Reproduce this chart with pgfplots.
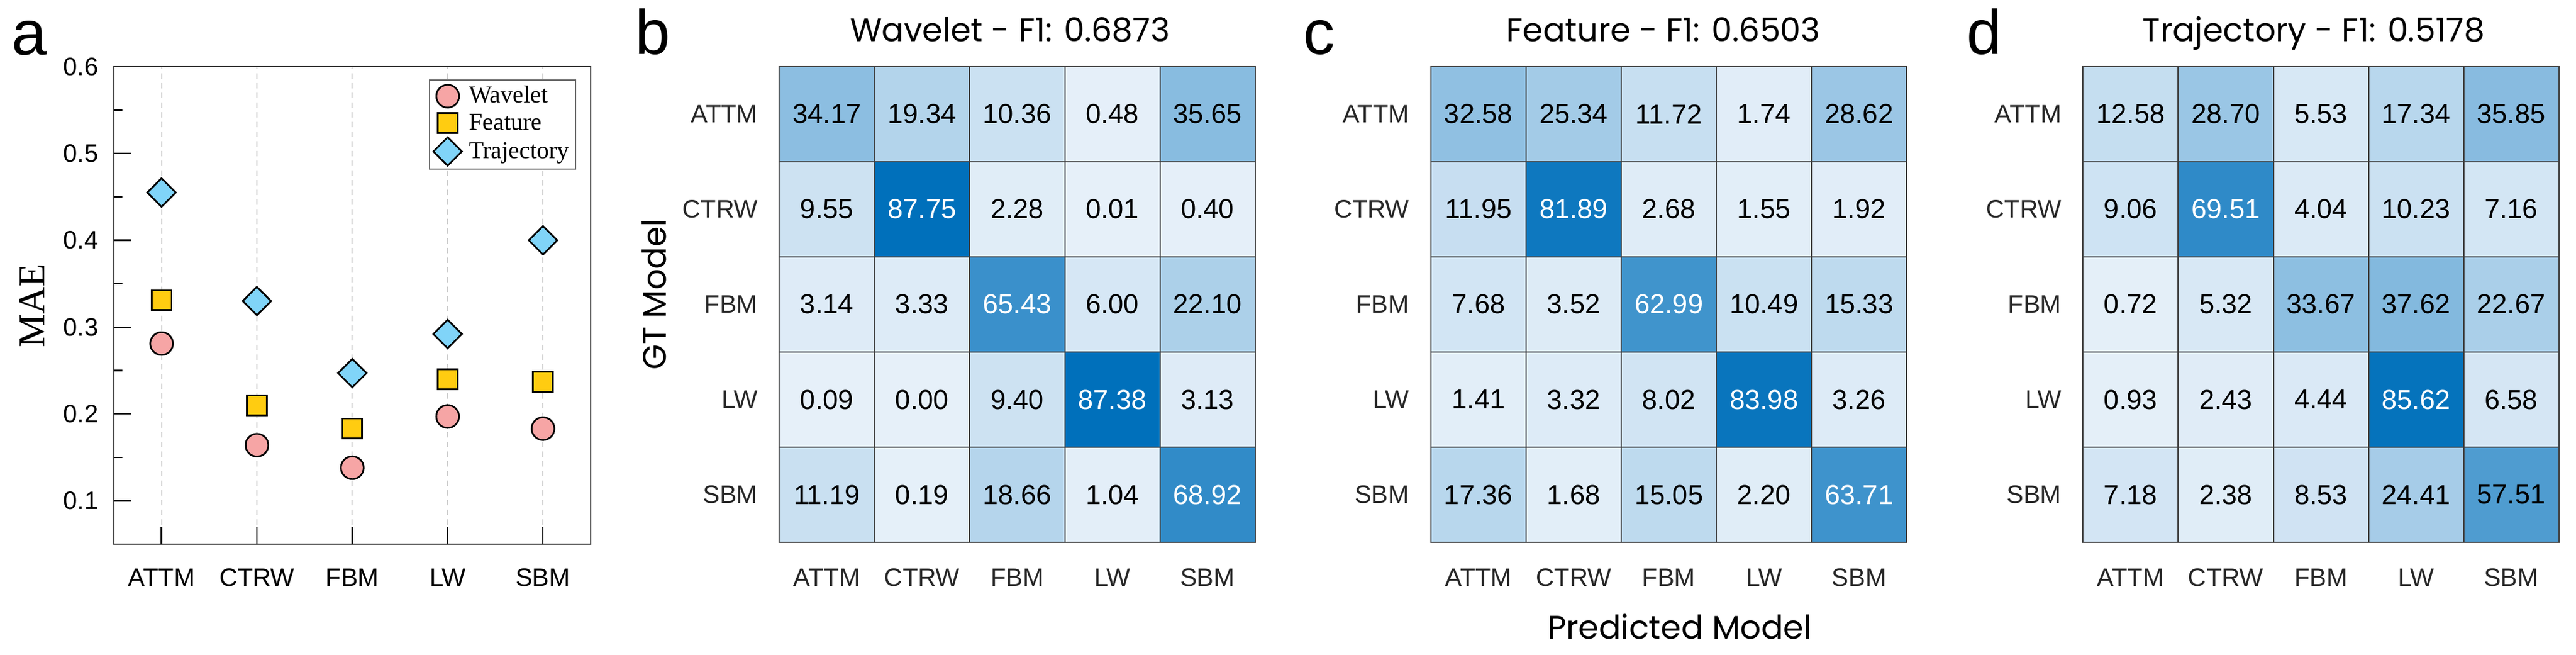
\documentclass[border=0pt]{standalone}
\usepackage{fontspec}
\setmainfont{Liberation Sans}
\newfontfamily\timesf{Liberation Serif}
\newfontfamily\geo{Poppins}
\usepackage{pgfplots}
\usepackage{pgfplotstable}
\pgfplotsset{compat=1.18}

\definecolor{wav}{RGB}{246,165,165}
\definecolor{fea}{RGB}{255,204,17}
\definecolor{tra}{RGB}{128,212,248}
\definecolor{lbl}{RGB}{38,38,38}

% MAE per model class
\pgfplotstableread{
x wav   fea   tra
0 0.281 0.331 0.455
1 0.164 0.210 0.330
2 0.138 0.183 0.247
3 0.197 0.240 0.292
4 0.183 0.237 0.400
}\mae

% confusion matrices: x = predicted, y = ground truth
\pgfplotstableread{
x y v
0 0 34.17
1 0 19.34
2 0 10.36
3 0 0.48
4 0 35.65
0 1 9.55
1 1 87.75
2 1 2.28
3 1 0.01
4 1 0.40
0 2 3.14
1 2 3.33
2 2 65.43
3 2 6.00
4 2 22.10
0 3 0.09
1 3 0.00
2 3 9.40
3 3 87.38
4 3 3.13
0 4 11.19
1 4 0.19
2 4 18.66
3 4 1.04
4 4 68.92
}\wavelet

\pgfplotstableread{
x y v
0 0 32.58
1 0 25.34
2 0 11.72
3 0 1.74
4 0 28.62
0 1 11.95
1 1 81.89
2 1 2.68
3 1 1.55
4 1 1.92
0 2 7.68
1 2 3.52
2 2 62.99
3 2 10.49
4 2 15.33
0 3 1.41
1 3 3.32
2 3 8.02
3 3 83.98
4 3 3.26
0 4 17.36
1 4 1.68
2 4 15.05
3 4 2.20
4 4 63.71
}\feature

\pgfplotstableread{
x y v
0 0 12.58
1 0 28.70
2 0 5.53
3 0 17.34
4 0 35.85
0 1 9.06
1 1 69.51
2 1 4.04
3 1 10.23
4 1 7.16
0 2 0.72
1 2 5.32
2 2 33.67
3 2 37.62
4 2 22.67
0 3 0.93
1 3 2.43
2 3 4.44
3 3 85.62
4 3 6.58
0 4 7.18
1 4 2.38
2 4 8.53
3 4 24.41
4 4 57.51
}\trajectory

\pgfplotsset{
  cm/.style={
    scale only axis, width=196.3pt, height=196.3pt,
    anchor=south west,
    xmin=-0.5, xmax=4.5, ymin=-0.5, ymax=4.5,
    enlargelimits=false, y dir=reverse,
    xtick={0,...,4}, ytick={0,...,4},
    xticklabels={ATTM,CTRW,FBM,LW,SBM},
    yticklabels={ATTM,CTRW,FBM,LW,SBM},
    major tick length=0pt, minor tick length=0pt,
    minor xtick={0.5,1.5,2.5,3.5}, minor ytick={0.5,1.5,2.5,3.5},
    xminorgrids, yminorgrids,
    minor grid style={draw=black!75, line width=0.5pt},
    axis line style={draw=black!75, line width=0.5pt},
    axis on top,
    colormap={cmblues}{rgb255(0)=(230,240,249) rgb255(1)=(0,112,187)},
    point meta min=0, point meta max=88,
    tick label style={font=\fontsize{10.4}{12}\selectfont, text=lbl, inner sep=0pt},
    xticklabel style={anchor=north, yshift=-10.7pt},
    yticklabel style={anchor=east, xshift=-8.75pt},
  },
  cmfill/.style={matrix plot*, mesh/cols=5, point meta=\thisrow{v}},
  cmtext/.style={
    draw=none, mark=none, point meta=explicit symbolic,
    nodes near coords={\pgfplotspointmeta},
    nodes near coords align=center,
    every node near coord/.append style={font=\fontsize{11.3}{13}\selectfont,
      text=#1, inner sep=0pt, anchor=center},
  },
  dark/.style={x filter/.expression={\thisrow{v}>60 ? nan : x}},
  light/.style={x filter/.expression={\thisrow{v}>60 ? x : nan}},
}

\begin{document}
\begin{tikzpicture}
\path[use as bounding box] (0,0) rectangle (1063pt,270.25pt);

% panel a
\begin{axis}[
    at={(47pt,45.75pt)}, anchor=south west,
    scale only axis, width=196.75pt, height=197pt,
    xmin=-0.5, xmax=4.5, ymin=0.05, ymax=0.6,
    xtick={0,...,4}, xticklabels={ATTM,CTRW,FBM,LW,SBM},
    ytick={0.1,0.2,0.3,0.4,0.5,0.6},
    yticklabels={0.1,0.2,0.3,0.4,0.5,0.6},
    minor ytick={0.15,0.25,0.35,0.45,0.55},
    xtick pos=left, ytick pos=left, tick align=inside,
    major tick length=7pt, minor tick length=3.5pt,
    tick style={black, line width=0.6pt},
    axis line style={black!85, line width=0.6pt},
    xmajorgrids,
    major grid style={draw=black!20, line width=0.5pt, dash pattern=on 2.2pt off 1.8pt},
    tick label style={font=\fontsize{10.4}{12}\selectfont, inner sep=0pt},
    xticklabel style={anchor=north, yshift=-10pt},
    yticklabel style={anchor=east, xshift=-6.25pt},
    legend style={at={(0.969,0.9737)}, anchor=north east,
      draw=black!60, line width=0.5pt,
      inner xsep=1.5pt, inner ysep=1.5pt, row sep=0.6pt,
      nodes={inner sep=1pt},
      /tikz/every even column/.append style={text height=7pt, text depth=2.2pt},
      /tikz/every odd column/.append style={column sep=2pt},
      font=\timesf\fontsize{10}{12}\selectfont},
    legend cell align=left,
  ]
\addplot[only marks, mark=*, mark size=4.7pt,
  mark options={fill=wav, draw=black, line width=0.7pt}] table[x=x, y=wav] {\mae};
\addplot[only marks, mark=square*, mark size=4.1pt,
  mark options={fill=fea, draw=black, line width=0.7pt}] table[x=x, y=fea] {\mae};
\addplot[only marks, mark=square*, mark size=4.15pt,
  mark options={rotate=45, fill=tra, draw=black, line width=0.7pt}] table[x=x, y=tra] {\mae};
\legend{Wavelet, Feature, Trajectory}
\end{axis}

% panels b, c, d
\begin{axis}[cm, at={(321.6pt,46.5pt)}]
\addplot[cmfill] table[x=x, y=y] {\wavelet};
\addplot[cmtext=black, dark] table[x=x, y=y, meta=v] {\wavelet};
\addplot[cmtext=white, light] table[x=x, y=y, meta=v] {\wavelet};
\end{axis}
\begin{axis}[cm, at={(590.5pt,46.5pt)}]
\addplot[cmfill] table[x=x, y=y] {\feature};
\addplot[cmtext=black, dark] table[x=x, y=y, meta=v] {\feature};
\addplot[cmtext=white, light] table[x=x, y=y, meta=v] {\feature};
\end{axis}
\begin{axis}[cm, at={(859.6pt,46.5pt)}]
\addplot[cmfill] table[x=x, y=y] {\trajectory};
\addplot[cmtext=black, dark] table[x=x, y=y, meta=v] {\trajectory};
\addplot[cmtext=white, light] table[x=x, y=y, meta=v] {\trajectory};
\end{axis}

% labels
\tikzset{plet/.style={anchor=base west, inner sep=0pt, font=\fontsize{26}{28}\selectfont},
         gtitle/.style={inner sep=0pt, font=\geo\fontsize{13.5}{15}\selectfont}}
\node[plet] at (4.7pt,247.6pt) {a};
\node[plet] at (261.8pt,247.85pt) {b};
\node[plet] at (537.7pt,247.85pt) {c};
\node[plet] at (811.5pt,247.85pt) {d};

\node[gtitle, anchor=base] at (416.8pt,253pt) {Wavelet - F1: 0.6873};
\node[gtitle, anchor=base] at (686.4pt,253pt) {Feature - F1: 0.6503};
\node[gtitle, anchor=base] at (954.75pt,253pt) {Trajectory - F1: 0.5178};
\node[gtitle, anchor=base, rotate=90] at (274.75pt,148.75pt) {GT Model};
\node[gtitle, anchor=base] at (693.1pt,6.5pt) {Predicted Model};
\node[anchor=base, rotate=90, inner sep=0pt, font=\timesf\fontsize{15.5}{17}\selectfont]
  at (18.4pt,144pt) {MAE};
\end{tikzpicture}
\end{document}
